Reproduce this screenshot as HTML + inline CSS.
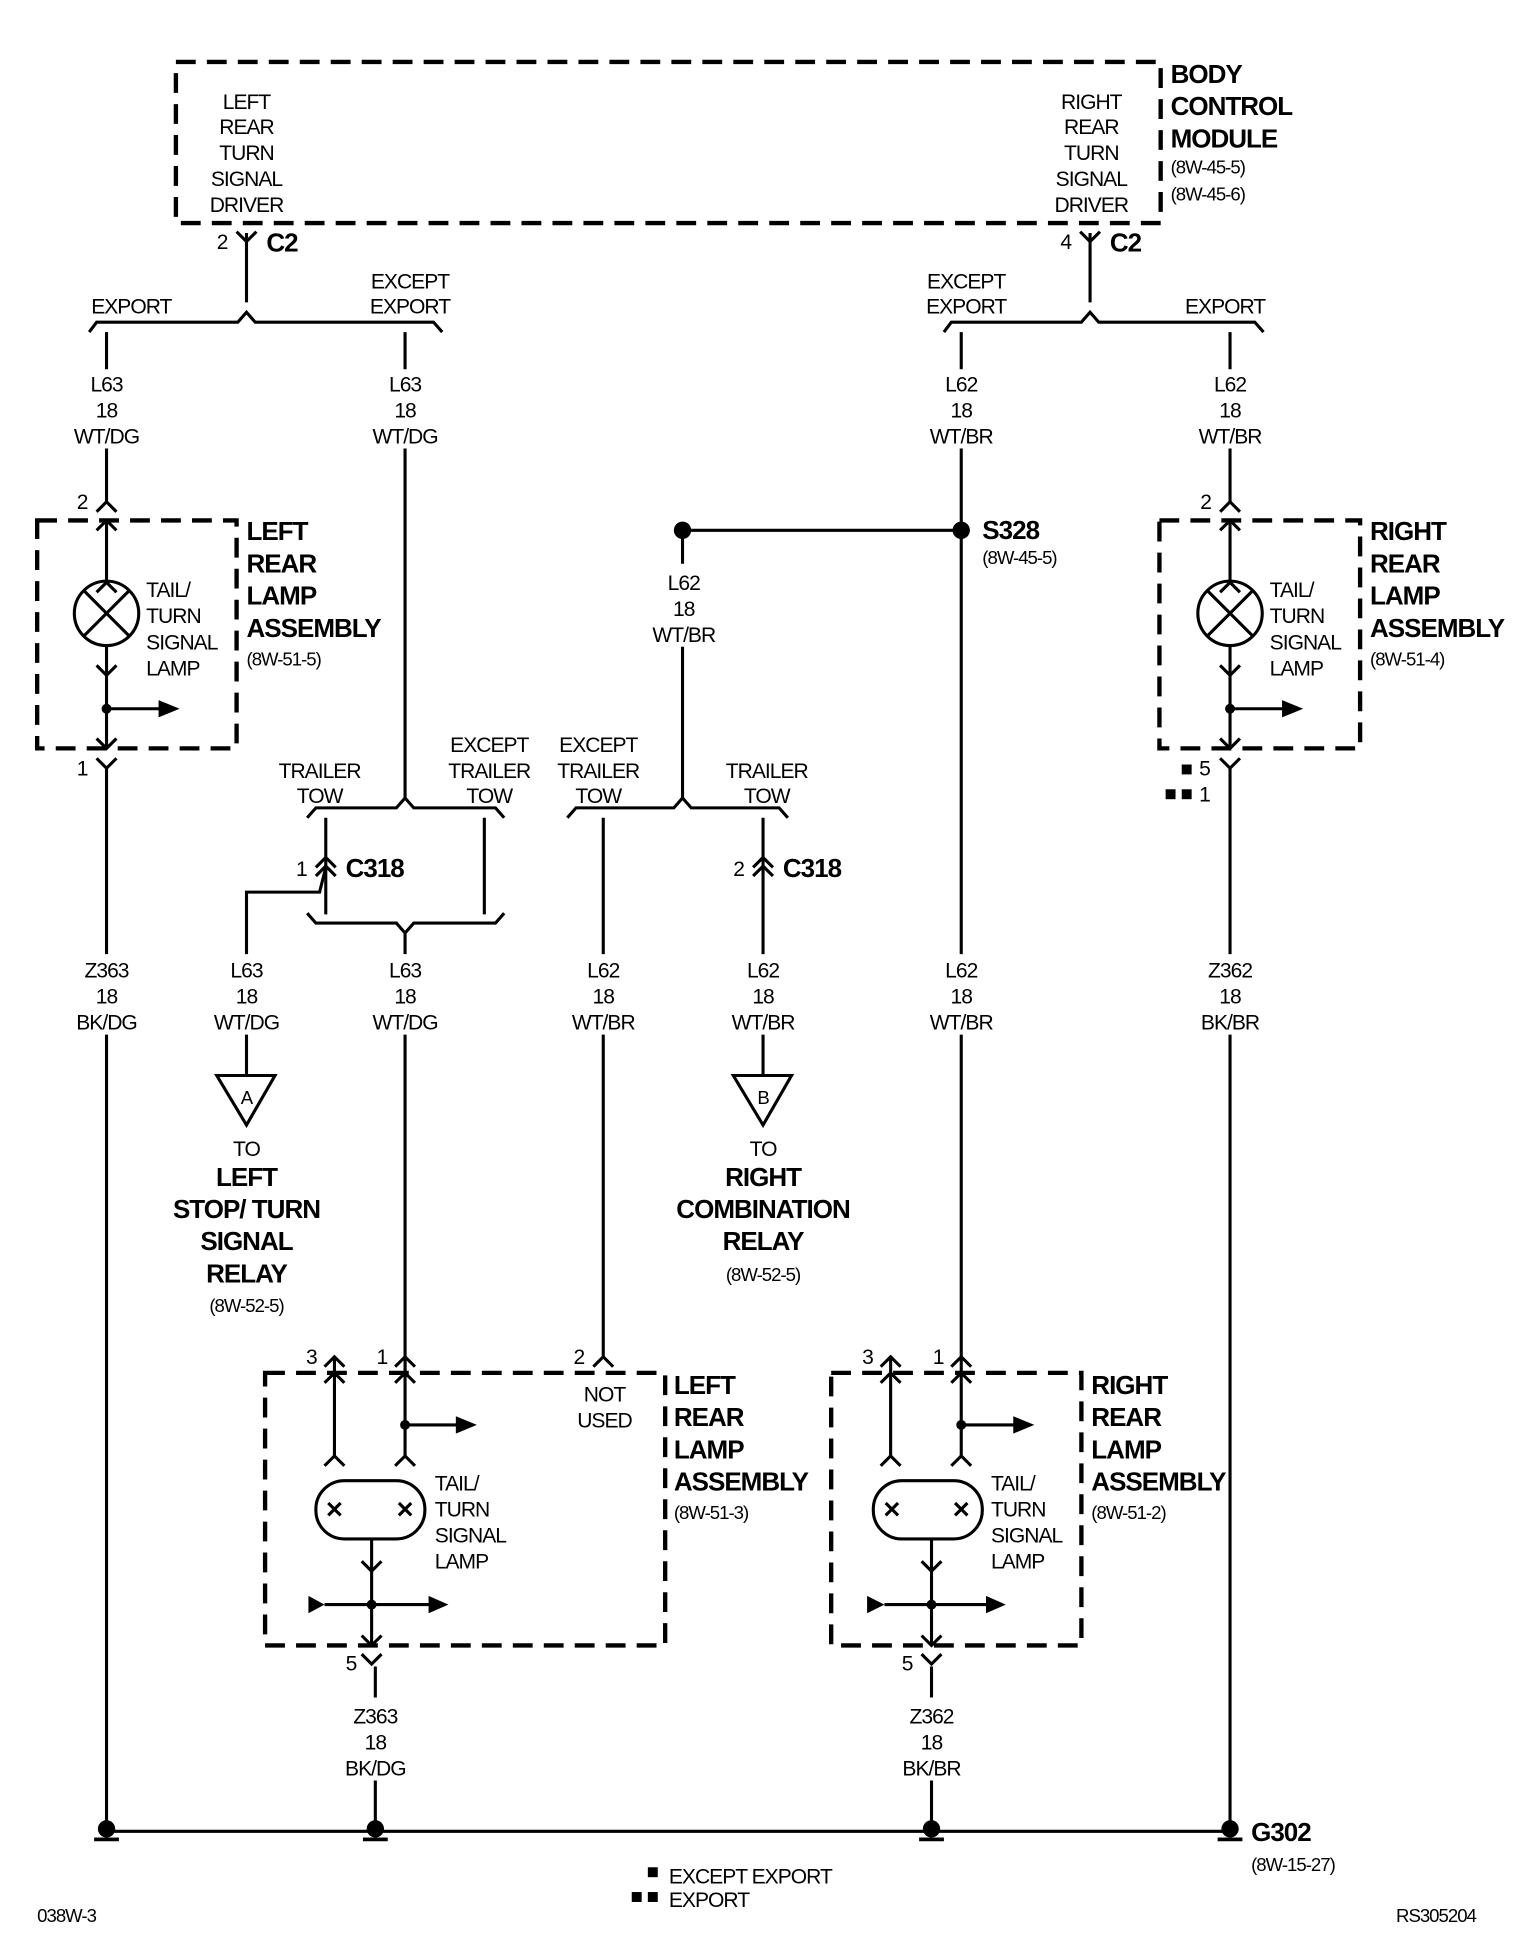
<!DOCTYPE html>
<html><head><meta charset="utf-8"><style>
html,body{margin:0;padding:0;background:#fff}
svg{display:block}
text{font-family:"Liberation Sans",Arial,sans-serif;font-size:17px;fill:#000;letter-spacing:-0.8px}
.b{font-weight:bold;font-size:21px;letter-spacing:-0.8px}
.s{font-size:15px}
.m{text-anchor:middle}
</style></head><body>
<svg width="1536" height="1954" viewBox="0 0 1240 1577" preserveAspectRatio="none" xmlns="http://www.w3.org/2000/svg">
<defs>
<path id="up" d="M-8,8 L0,0 L8,8" fill="none" stroke="#000" stroke-width="2.5"/>
<path id="dn" d="M-8,-8 L0,0 L8,-8" fill="none" stroke="#000" stroke-width="2.5"/>
</defs>
<g fill="none" stroke="#000" stroke-width="3.5" stroke-dasharray="16,9">
<rect x="142" y="50" width="795" height="130"/>
<rect x="30" y="420" width="161" height="184"/>
<rect x="936" y="420" width="162" height="184"/>
<rect x="214" y="1108" width="323" height="220"/>
<rect x="671" y="1108" width="202" height="220"/>
</g>
<g fill="none" stroke="#000" stroke-width="2.5">
<path d="M199,188 V244"/><path d="M880,188 V244"/>
<path d="M72,268 L78,260 H192 L199,252 L206,260 H350 L357,268"/>
<path d="M762,268 L768,260 H873 L880,252 L887,260 H1013 L1020,268"/>
<path d="M86,268 V298 M86,362 V405 M86,420 V470 M86,521 V604 M86,620 V770 M86,835 V1478"/>
<path d="M327,268 V298 M327,362 V645"/>
<path d="M776,268 V298 M776,362 V770 M776,835 V1108"/>
<path d="M993,268 V298 M993,362 V405 M993,420 V470 M993,521 V604 M993,620 V770 M993,835 V1478"/>
<path d="M248,660 L255,652 H320 L327,644 L334,652 H400 L407,660"/>
<path d="M458,660 L465,652 H544 L551,644 L558,652 H629 L636,660"/>
<path d="M248,737 L255,745 H320 L327,753 L334,745 H400 L407,737"/>
<path d="M263,660 V738 M391,660 V738"/>
<path d="M263,700 L258,720 H199 V770 M199,835 V868"/>
<path d="M327,753 V770 M327,835 V1108"/>
<path d="M551,428 H776 M551,428 V455 M551,522 V645"/>
<path d="M487,660 V770 M487,835 V1095"/>
<path d="M616,660 V770 M616,835 V868"/>
<path d="M175,868 H222 L199,908 Z"/>
<path d="M592,868 H639 L616,908 Z"/>
<circle cx="86" cy="495" r="26"/><path d="M68,477 L104,513 M104,477 L68,513"/>
<circle cx="993" cy="495" r="26"/><path d="M975,477 L1011,513 M1011,477 L975,513"/>
<path d="M86,572 H130 M993,572 H1037"/>
<path d="M270,1108 V1175 M327,1108 V1175 M327,1150 H370 M300,1242 V1328 M262,1295 H348 M303,1345 V1370 M303,1437 V1478"/>
<path d="M270,1095 V1108 M327,1095 V1108"/>
<rect x="255" y="1195" width="88" height="47" rx="23"/>
<path d="M265,1213 L275,1223 M275,1213 L265,1223 M322,1213 L332,1223 M332,1213 L322,1223"/>
<path d="M719,1108 V1175 M776,1108 V1175 M776,1150 H820 M752,1242 V1328 M714,1295 H797 M752,1345 V1370 M752,1437 V1478"/>
<path d="M719,1095 V1108"/>
<rect x="705" y="1195" width="88" height="47" rx="23"/>
<path d="M715,1213 L725,1223 M725,1213 L715,1223 M771,1213 L781,1223 M781,1213 L771,1223"/>
<path d="M86,1478 H993"/>
</g>
<g fill="#000">
<path d="M145,572 L128,565 V579 Z"/><path d="M1052,572 L1035,565 V579 Z"/>
<path d="M385,1150 L368,1143 V1157 Z"/><path d="M835,1150 L818,1143 V1157 Z"/>
<path d="M262,1295 L249,1288 V1302 Z"/><path d="M362,1295 L346,1288 V1302 Z"/>
<path d="M714,1295 L700,1288 V1302 Z"/><path d="M812,1295 L796,1288 V1302 Z"/>
<circle cx="86" cy="572" r="4"/><circle cx="993" cy="572" r="4"/>
<circle cx="327" cy="1150" r="4"/><circle cx="776" cy="1150" r="4"/>
<circle cx="300" cy="1295" r="4"/><circle cx="752" cy="1295" r="4"/>
<circle cx="551" cy="428" r="7"/><circle cx="776" cy="428" r="7"/>
<circle cx="86" cy="1476" r="7"/><rect x="76" y="1483" width="20" height="3"/>
<circle cx="303" cy="1476" r="7"/><rect x="293" y="1483" width="20" height="3"/>
<circle cx="752" cy="1476" r="7"/><rect x="742" y="1483" width="20" height="3"/>
<circle cx="993" cy="1476" r="7"/><rect x="983" y="1483" width="20" height="3"/>
<rect x="954" y="617" width="8" height="8"/><rect x="941" y="637" width="8" height="8"/><rect x="954" y="637" width="8" height="8"/>
<rect x="523" y="1507" width="8" height="8"/><rect x="510" y="1527" width="8" height="8"/><rect x="523" y="1527" width="8" height="8"/>
</g>
<use href="#dn" x="199" y="195"/><use href="#dn" x="880" y="195"/>
<use href="#up" x="86" y="405"/><use href="#up" x="86" y="420"/><use href="#up" x="86" y="470"/>
<use href="#dn" x="86" y="545"/><use href="#dn" x="86" y="604"/><use href="#dn" x="86" y="620"/>
<use href="#up" x="993" y="405"/><use href="#up" x="993" y="420"/><use href="#up" x="993" y="470"/>
<use href="#dn" x="993" y="545"/><use href="#dn" x="993" y="604"/><use href="#dn" x="993" y="620"/>
<use href="#up" x="263" y="692"/><use href="#up" x="263" y="699"/>
<use href="#up" x="616" y="692"/><use href="#up" x="616" y="699"/>
<use href="#up" x="270" y="1095"/><use href="#up" x="270" y="1108"/><use href="#up" x="270" y="1175"/>
<use href="#up" x="327" y="1095"/><use href="#up" x="327" y="1108"/><use href="#up" x="327" y="1175"/>
<use href="#up" x="487" y="1095"/>
<use href="#up" x="719" y="1095"/><use href="#up" x="719" y="1108"/><use href="#up" x="719" y="1175"/>
<use href="#up" x="776" y="1095"/><use href="#up" x="776" y="1108"/><use href="#up" x="776" y="1175"/>
<use href="#dn" x="300" y="1268"/><use href="#dn" x="300" y="1328"/><use href="#dn" x="300" y="1343"/>
<use href="#dn" x="752" y="1268"/><use href="#dn" x="752" y="1328"/><use href="#dn" x="752" y="1343"/>
<g class="m">
<text x="199" y="88">LEFT</text><text x="199" y="108">REAR</text><text x="199" y="129">TURN</text><text x="199" y="150">SIGNAL</text><text x="199" y="171">DRIVER</text>
<text x="881" y="88">RIGHT</text><text x="881" y="108">REAR</text><text x="881" y="129">TURN</text><text x="881" y="150">SIGNAL</text><text x="881" y="171">DRIVER</text>
<text x="106" y="253">EXPORT</text><text x="331" y="233">EXCEPT</text><text x="331" y="253">EXPORT</text>
<text x="780" y="233">EXCEPT</text><text x="780" y="253">EXPORT</text><text x="989" y="253">EXPORT</text>
<text x="86" y="316">L63</text><text x="86" y="337">18</text><text x="86" y="358">WT/DG</text>
<text x="327" y="316">L63</text><text x="327" y="337">18</text><text x="327" y="358">WT/DG</text>
<text x="776" y="316">L62</text><text x="776" y="337">18</text><text x="776" y="358">WT/BR</text>
<text x="993" y="316">L62</text><text x="993" y="337">18</text><text x="993" y="358">WT/BR</text>
<text x="552" y="476">L62</text><text x="552" y="497">18</text><text x="552" y="518">WT/BR</text>
<text x="258" y="628">TRAILER</text><text x="258" y="648">TOW</text>
<text x="395" y="607">EXCEPT</text><text x="395" y="628">TRAILER</text><text x="395" y="648">TOW</text>
<text x="483" y="607">EXCEPT</text><text x="483" y="628">TRAILER</text><text x="483" y="648">TOW</text>
<text x="619" y="628">TRAILER</text><text x="619" y="648">TOW</text>
<text x="86" y="789">Z363</text><text x="86" y="810">18</text><text x="86" y="831">BK/DG</text>
<text x="199" y="789">L63</text><text x="199" y="810">18</text><text x="199" y="831">WT/DG</text>
<text x="327" y="789">L63</text><text x="327" y="810">18</text><text x="327" y="831">WT/DG</text>
<text x="487" y="789">L62</text><text x="487" y="810">18</text><text x="487" y="831">WT/BR</text>
<text x="616" y="789">L62</text><text x="616" y="810">18</text><text x="616" y="831">WT/BR</text>
<text x="776" y="789">L62</text><text x="776" y="810">18</text><text x="776" y="831">WT/BR</text>
<text x="993" y="789">Z362</text><text x="993" y="810">18</text><text x="993" y="831">BK/BR</text>
<text x="199" y="891" class="s">A</text><text x="616" y="891" class="s">B</text>
<text x="199" y="933">TO</text>
<text x="199" y="957" class="b">LEFT</text><text x="199" y="983" class="b">STOP/ TURN</text><text x="199" y="1009" class="b">SIGNAL</text><text x="199" y="1035" class="b">RELAY</text>
<text x="199" y="1059" class="s">(8W-52-5)</text>
<text x="616" y="933">TO</text>
<text x="616" y="957" class="b">RIGHT</text><text x="616" y="983" class="b">COMBINATION</text><text x="616" y="1009" class="b">RELAY</text>
<text x="616" y="1034" class="s">(8W-52-5)</text>
<text x="488" y="1131">NOT</text><text x="488" y="1152">USED</text>
<text x="303" y="1391">Z363</text><text x="303" y="1412">18</text><text x="303" y="1433">BK/DG</text>
<text x="752" y="1391">Z362</text><text x="752" y="1412">18</text><text x="752" y="1433">BK/BR</text>
</g>
<text x="945" y="67" class="b">BODY</text><text x="945" y="93" class="b">CONTROL</text><text x="945" y="119" class="b">MODULE</text>
<text x="945" y="140" class="s">(8W-45-5)</text><text x="945" y="162" class="s">(8W-45-6)</text>
<text x="175" y="201">2</text><text x="215" y="203" class="b">C2</text>
<text x="856" y="201">4</text><text x="896" y="203" class="b">C2</text>
<text x="62" y="411">2</text><text x="62" y="626">1</text>
<text x="969" y="411">2</text><text x="968" y="626">5</text><text x="968" y="647">1</text>
<text x="199" y="436" class="b">LEFT</text><text x="199" y="462" class="b">REAR</text><text x="199" y="488" class="b">LAMP</text><text x="199" y="514" class="b">ASSEMBLY</text>
<text x="199" y="537" class="s">(8W-51-5)</text>
<text x="1106" y="436" class="b">RIGHT</text><text x="1106" y="462" class="b">REAR</text><text x="1106" y="488" class="b">LAMP</text><text x="1106" y="514" class="b">ASSEMBLY</text>
<text x="1106" y="537" class="s">(8W-51-4)</text>
<text x="118" y="482">TAIL/</text><text x="118" y="503">TURN</text><text x="118" y="524">SIGNAL</text><text x="118" y="545">LAMP</text>
<text x="1025" y="482">TAIL/</text><text x="1025" y="503">TURN</text><text x="1025" y="524">SIGNAL</text><text x="1025" y="545">LAMP</text>
<text x="793" y="435" class="b">S328</text><text x="793" y="455" class="s">(8W-45-5)</text>
<text x="239" y="707">1</text><text x="279" y="708" class="b">C318</text>
<text x="592" y="707">2</text><text x="632" y="708" class="b">C318</text>
<text x="247" y="1101">3</text><text x="304" y="1101">1</text><text x="463" y="1101">2</text>
<text x="696" y="1101">3</text><text x="753" y="1101">1</text>
<text x="279" y="1348">5</text><text x="728" y="1348">5</text>
<text x="351" y="1203">TAIL/</text><text x="351" y="1224">TURN</text><text x="351" y="1245">SIGNAL</text><text x="351" y="1266">LAMP</text>
<text x="800" y="1203">TAIL/</text><text x="800" y="1224">TURN</text><text x="800" y="1245">SIGNAL</text><text x="800" y="1266">LAMP</text>
<text x="544" y="1125" class="b">LEFT</text><text x="544" y="1151" class="b">REAR</text><text x="544" y="1177" class="b">LAMP</text><text x="544" y="1203" class="b">ASSEMBLY</text>
<text x="544" y="1226" class="s">(8W-51-3)</text>
<text x="881" y="1125" class="b">RIGHT</text><text x="881" y="1151" class="b">REAR</text><text x="881" y="1177" class="b">LAMP</text><text x="881" y="1203" class="b">ASSEMBLY</text>
<text x="881" y="1226" class="s">(8W-51-2)</text>
<text x="1010" y="1486" class="b">G302</text><text x="1010" y="1510" class="s">(8W-15-27)</text>
<text x="540" y="1520">EXCEPT EXPORT</text><text x="540" y="1539">EXPORT</text>
<text x="30" y="1551" class="s">038W-3</text><text x="1127" y="1551" class="s">RS305204</text>
</svg>
</body></html>
